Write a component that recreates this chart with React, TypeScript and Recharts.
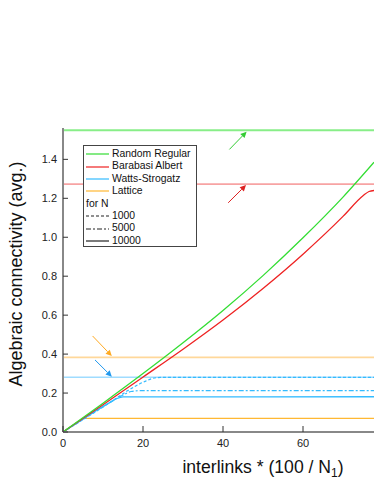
import { LineChart, Line, XAxis, YAxis, ReferenceLine, Legend } from "recharts"

// x = interlinks * (100 / N1)
const rrX = [0, 10, 20, 30, 40, 50, 60, 70, 77.75]
const rrY = [0, 0.148, 0.3, 0.458, 0.624, 0.803, 0.997, 1.206, 1.385]

const baX = [0, 10, 20, 30, 40, 50, 60, 70, 75, 76.5, 77.75]
const baY = [0, 0.14, 0.282, 0.425, 0.575, 0.737, 0.913, 1.107, 1.213, 1.235, 1.24]

const ws1000X = [0, 12, 16, 20, 23.4, 26, 77.75]
const ws1000Y = [0, 0.155, 0.21, 0.255, 0.279, 0.281, 0.281]
const ws5000X = [0, 12, 15, 17, 19, 77.75]
const ws5000Y = [0, 0.155, 0.19, 0.208, 0.212, 0.212]
const ws10000X = [0, 12, 13.5, 15, 77.75]
const ws10000Y = [0, 0.155, 0.172, 0.18, 0.181]

const latX = [0, 5, 77.75]
const latY = [0, 0.07, 0.07]

// theoretical limits (pale lines)
const limits = { rr: 1.55, ba: 1.273, lat: 0.383, ws: 0.281 }

// arrows: [x1, y1, x2, y2]
const arrowRR = [41.6, 1.451, 45.9, 1.542]
const arrowBA = [41.3, 1.177, 45.75, 1.268]
const arrowLat = [7.4, 0.493, 12.2, 0.39]
const arrowWS = [8.0, 0.37, 12.2, 0.284]

const xTicks = [0, 20, 40, 60]
const yTicks = [0, 0.2, 0.4, 0.6, 0.8, 1.0, 1.2, 1.4]

const GREEN = "#33dd33"
const RED = "#ee2222"
const BLUE = "#33bbff"
const ORANGE = "#ffb833"
const FONT = "Arial, 'Liberation Sans', sans-serif"

const toPoints = (xs: number[], ys: number[]) => xs.map((x, i) => ({ x, y: ys[i] }))

const legendItems = [
    { name: "Random Regular", color: GREEN },
    { name: "Barabasi Albert", color: RED },
    { name: "Watts-Strogatz", color: BLUE },
    { name: "Lattice", color: ORANGE },
]
const sizeItems = [
    { name: "1000", dash: "3 2" },
    { name: "5000", dash: "5 2 2 2" },
    { name: "10000", dash: undefined },
]

function arrowShape(color: string) {
    return (props: any) => {
        const { x1, y1, x2, y2 } = props
        const ang = Math.atan2(y2 - y1, x2 - x1)
        const len = 6
        const w = 3
        const bx = x2 - len * Math.cos(ang)
        const by = y2 - len * Math.sin(ang)
        const px = -Math.sin(ang) * w
        const py = Math.cos(ang) * w
        return (
            <g>
                <line x1={x1} y1={y1} x2={bx} y2={by} stroke={color} strokeWidth={1} />
                <polygon points={`${x2},${y2} ${bx + px},${by + py} ${bx - px},${by - py}`} fill={color} />
            </g>
        )
    }
}

const BottomTick = (props: any) => {
    const { x, y, payload } = props
    return (
        <g>
            <line x1={x} y1={y} x2={x} y2={y - 6} stroke="#333" strokeWidth={1} />
            <text x={x} y={y + 15} textAnchor="middle" fontSize={11} fill="#222" fontFamily={FONT}>
                {payload.value}
            </text>
        </g>
    )
}

const TopTick = (props: any) => {
    const { x, y } = props
    return <line x1={x} y1={y} x2={x} y2={y + 7} stroke="#333" strokeWidth={1} />
}

const LeftTick = (props: any) => {
    const { x, y, payload } = props
    return (
        <g>
            <line x1={x} y1={y} x2={x + 5} y2={y} stroke="#333" strokeWidth={1} />
            <text x={x - 6} y={y + 4} textAnchor="end" fontSize={11} fill="#222" fontFamily={FONT}>
                {Number(payload.value).toFixed(1)}
            </text>
        </g>
    )
}

const Sample = ({ color, dash }: { color: string; dash?: string }) => (
    <svg width={23} height={8} style={{ marginRight: 3, flexShrink: 0 }}>
        <line x1={0} y1={4} x2={23} y2={4} stroke={color} strokeWidth={1.2} strokeDasharray={dash} />
    </svg>
)

export default function App() {
    return (
        <div style={{ position: "absolute", left: 0, top: 0, width: 374, height: 484 }}>
            <LineChart width={374} height={484} margin={{ top: 128, right: 0, bottom: 0, left: 0 }}>
                <XAxis
                    xAxisId="top"
                    orientation="top"
                    type="number"
                    dataKey="x"
                    domain={[0, 77.75]}
                    ticks={xTicks}
                    height={0}
                    tickSize={0}
                    tickMargin={0}
                    tickLine={false}
                    tick={<TopTick />}
                    axisLine={{ stroke: "#333", strokeWidth: 1 }}
                    allowDataOverflow
                />
                <XAxis
                    type="number"
                    dataKey="x"
                    domain={[0, 77.75]}
                    ticks={xTicks}
                    height={52}
                    tickSize={0}
                    tickMargin={0}
                    tickLine={false}
                    tick={<BottomTick />}
                    axisLine={{ stroke: "#888", strokeWidth: 2 }}
                    allowDataOverflow
                    label={{
                        content: () => (
                            <text x={263} y={473} textAnchor="middle" fontSize={17.6} fill="#111" fontFamily={FONT}>
                                interlinks * (100 / N
                                <tspan dy={4} fontSize={12}>1</tspan>
                                <tspan dy={-4}>)</tspan>
                            </text>
                        ),
                    }}
                />
                <YAxis
                    type="number"
                    domain={[0, 1.561]}
                    ticks={yTicks}
                    width={63}
                    tickSize={0}
                    tickMargin={0}
                    tickLine={false}
                    tick={<LeftTick />}
                    axisLine={{ stroke: "#888", strokeWidth: 2 }}
                    allowDataOverflow
                    label={{
                        content: () => (
                            <text
                                x={22}
                                y={274}
                                transform="rotate(-90, 22, 274)"
                                textAnchor="middle"
                                fontSize={18}
                                fill="#111"
                                fontFamily={FONT}
                            >
                                Algebraic connectivity (avg.)
                            </text>
                        ),
                    }}
                />

                <ReferenceLine y={limits.rr} stroke="#88ee88" strokeWidth={2} />
                <ReferenceLine y={limits.ba} stroke="#f7a3a3" strokeWidth={1.6} />
                <ReferenceLine y={limits.lat} stroke="#ffd89a" strokeWidth={1.6} />
                <ReferenceLine y={limits.ws} stroke="#9fdcff" strokeWidth={1.6} />

                <ReferenceLine segment={[{ x: arrowRR[0], y: arrowRR[1] }, { x: arrowRR[2], y: arrowRR[3] }]} shape={arrowShape("#33cc33")} />
                <ReferenceLine segment={[{ x: arrowBA[0], y: arrowBA[1] }, { x: arrowBA[2], y: arrowBA[3] }]} shape={arrowShape("#dd2222")} />
                <ReferenceLine segment={[{ x: arrowLat[0], y: arrowLat[1] }, { x: arrowLat[2], y: arrowLat[3] }]} shape={arrowShape("#ffaa22")} />
                <ReferenceLine segment={[{ x: arrowWS[0], y: arrowWS[1] }, { x: arrowWS[2], y: arrowWS[3] }]} shape={arrowShape("#2299ee")} />

                <Line data={toPoints(latX, latY)} dataKey="y" type="linear" stroke={ORANGE} strokeWidth={1.3} dot={false} isAnimationActive={false} />
                <Line data={toPoints(ws1000X, ws1000Y)} dataKey="y" type="monotone" stroke={BLUE} strokeWidth={1.2} strokeDasharray="3 2" dot={false} isAnimationActive={false} />
                <Line data={toPoints(ws5000X, ws5000Y)} dataKey="y" type="monotone" stroke={BLUE} strokeWidth={1.2} strokeDasharray="5 2 2 2" dot={false} isAnimationActive={false} />
                <Line data={toPoints(ws10000X, ws10000Y)} dataKey="y" type="monotone" stroke={BLUE} strokeWidth={1.3} dot={false} isAnimationActive={false} />
                <Line data={toPoints(baX, baY)} dataKey="y" type="monotone" stroke={RED} strokeWidth={1.3} dot={false} isAnimationActive={false} />
                <Line data={toPoints(rrX, rrY)} dataKey="y" type="monotone" stroke={GREEN} strokeWidth={1.3} dot={false} isAnimationActive={false} />

                <Legend
                    layout="horizontal"
                    verticalAlign="middle"
                    align="center"
                    wrapperStyle={{ left: 83, top: 145, width: 114, height: 102 }}
                    content={() => (
                        <div
                            style={{
                                boxSizing: "border-box",
                                width: 114,
                                height: 102,
                                border: "1px solid #444",
                                background: "#fff",
                                padding: "2px 0 0 2px",
                                fontFamily: FONT,
                                fontSize: 10.4,
                                lineHeight: "12.4px",
                                color: "#111",
                            }}
                        >
                            {legendItems.map((item) => (
                                <div key={item.name} style={{ display: "flex", alignItems: "center", height: 12.4 }}>
                                    <Sample color={item.color} />
                                    <span>{item.name}</span>
                                </div>
                            ))}
                            <div style={{ height: 12.4 }}>for N</div>
                            {sizeItems.map((item) => (
                                <div key={item.name} style={{ display: "flex", alignItems: "center", height: 12.4 }}>
                                    <Sample color="#222" dash={item.dash} />
                                    <span>{item.name}</span>
                                </div>
                            ))}
                        </div>
                    )}
                />
            </LineChart>
        </div>
    )
}
